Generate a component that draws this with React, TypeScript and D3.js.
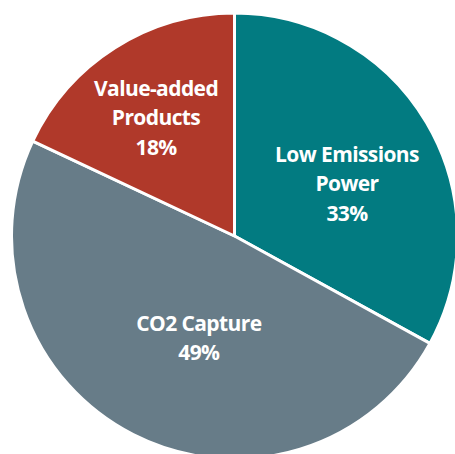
import React from "react";
import * as d3 from "d3";

// Share of funding by program area (percent)
const categories = ["Low Emissions Power", "CO2 Capture", "Value-added Products"];
const shares = [33, 49, 18];
const labelLines = [
  ["Low Emissions", "Power", "33%"],
  ["CO2 Capture", "49%"],
  ["Value-added", "Products", "18%"],
];
const colors = ["#027B81", "#677C88", "#B0392A"];

const W = 455;
const H = 454;
const CX = 234.5;
const CY = 236;
const R = 223;

// Label placement per slice: distance from centre and angular nudge (radians)
const labelLayout = [
  { r: 124, nudge: 0.1 },
  { r: 108, nudge: -0.135 },
  { r: 142, nudge: -0.02 },
];

export default function App() {
  const pie = d3
    .pie<number>()
    .sort(null)
    .value((d) => d)
    .startAngle(0)
    .endAngle(2 * Math.PI);
  const arcs = pie(shares);
  const arc = d3.arc<d3.PieArcDatum<number>>().innerRadius(0).outerRadius(R);

  const fontSize = 21;
  const lineH = 29.5;

  return (
    <svg
      width={W}
      height={H}
      style={{ position: "absolute", left: 0, top: 0, background: "#fff" }}
    >
      <g transform={`translate(${CX},${CY})`}>
        {arcs.map((a, i) => (
          <path
            key={categories[i]}
            d={arc(a) || ""}
            fill={colors[i]}
            stroke="#fff"
            strokeWidth={3}
            strokeLinejoin="round"
          />
        ))}
        {arcs.map((a, i) => {
          const mid = (a.startAngle + a.endAngle) / 2 + labelLayout[i].nudge;
          const x = Math.sin(mid) * labelLayout[i].r;
          const y = -Math.cos(mid) * labelLayout[i].r;
          const lines = labelLines[i];
          const top = y - ((lines.length - 1) * lineH) / 2;
          return (
            <text
              key={"l" + i}
              x={x}
              textAnchor="middle"
              fill="#fff"
              fontFamily="'Open Sans', 'Noto Sans', sans-serif"
              fontWeight={700}
              fontSize={fontSize}
              letterSpacing={-0.6}
            >
              {lines.map((t, j) => (
                <tspan key={j} x={x} y={top + j * lineH} dy="0.36em">
                  {t}
                </tspan>
              ))}
            </text>
          );
        })}
      </g>
    </svg>
  );
}
